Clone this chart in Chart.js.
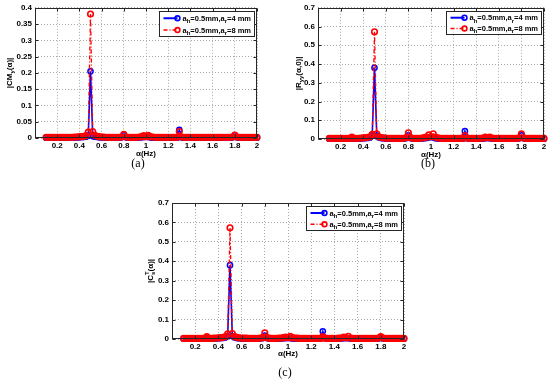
<!DOCTYPE html>
<html>
<head>
<meta charset="utf-8">
<script src="https://cdn.jsdelivr.net/npm/chart.js@4.4.1/dist/chart.umd.min.js"></script>
<style>
  body { margin: 0; background: #fff; }
  #wrap { position: relative; width: 550px; height: 380px; overflow: hidden; }
  canvas { position: absolute; }
  .cap { position: absolute; font: 12px "Liberation Serif", "DejaVu Serif", serif; color: #000; transform: translate(-50%, -50%); }
</style>
</head>
<body>
<div id="wrap">
  <canvas id="ca" width="270" height="160" style="left:0;top:0"></canvas>
  <canvas id="cb" width="275" height="160" style="left:275px;top:0"></canvas>
  <canvas id="cc" width="280" height="190" style="left:130px;top:190px"></canvas>
  <div class="cap" style="left:138px;top:163px">(a)</div>
  <div class="cap" style="left:428px;top:163px">(b)</div>
  <div class="cap" style="left:285px;top:372px">(c)</div>
</div>
<script>
'use strict';

// cyclic frequency alpha (Hz)
let alpha = [0.10, 0.12, 0.14, 0.16, 0.18, 0.20, 0.22, 0.24, 0.26, 0.28,
  0.30, 0.32, 0.34, 0.36, 0.38, 0.40, 0.42, 0.44, 0.46, 0.48,
  0.50, 0.52, 0.54, 0.56, 0.58, 0.60, 0.62, 0.64, 0.66, 0.68,
  0.70, 0.72, 0.74, 0.76, 0.78, 0.80, 0.82, 0.84, 0.86, 0.88,
  0.90, 0.92, 0.94, 0.96, 0.98, 1.00, 1.02, 1.04, 1.06, 1.08,
  1.10, 1.12, 1.14, 1.16, 1.18, 1.20, 1.22, 1.24, 1.26, 1.28,
  1.30, 1.32, 1.34, 1.36, 1.38, 1.40, 1.42, 1.44, 1.46, 1.48,
  1.50, 1.52, 1.54, 1.56, 1.58, 1.60, 1.62, 1.64, 1.66, 1.68,
  1.70, 1.72, 1.74, 1.76, 1.78, 1.80, 1.82, 1.84, 1.86, 1.88,
  1.90, 1.92, 1.94, 1.96, 1.98, 2.00];

// (a) |CMy(alpha)|
let cmBlue = [0.001, 0.001, 0.001, 0.001, 0.001, 0.001, 0.001, 0.001, 0.001, 0.001,
  0.001, 0.001, 0.001, 0.002, 0.002, 0.002, 0.003, 0.003, 0.004, 0.007,
  0.205, 0.006, 0.004, 0.003, 0.002, 0.002, 0.002, 0.001, 0.001, 0.001,
  0.001, 0.001, 0.001, 0.001, 0.002, 0.008, 0.002, 0.001, 0.001, 0.001,
  0.001, 0.001, 0.002, 0.002, 0.003, 0.005, 0.003, 0.002, 0.001, 0.001,
  0.001, 0.001, 0.001, 0.001, 0.001, 0.001, 0.001, 0.001, 0.001, 0.001,
  0.025, 0.002, 0.001, 0.001, 0.001, 0.001, 0.001, 0.001, 0.001, 0.001,
  0.001, 0.001, 0.001, 0.001, 0.001, 0.001, 0.001, 0.001, 0.001, 0.001,
  0.001, 0.001, 0.001, 0.001, 0.002, 0.008, 0.002, 0.001, 0.001, 0.001,
  0.001, 0.001, 0.001, 0.001, 0.001, 0.001];
let cmRed = [0.002, 0.002, 0.002, 0.002, 0.002, 0.002, 0.002, 0.002, 0.002, 0.002,
  0.002, 0.002, 0.002, 0.003, 0.003, 0.004, 0.004, 0.005, 0.007, 0.018,
  0.381, 0.020, 0.008, 0.005, 0.004, 0.003, 0.003, 0.002, 0.002, 0.002,
  0.002, 0.002, 0.002, 0.002, 0.003, 0.011, 0.003, 0.002, 0.002, 0.002,
  0.002, 0.002, 0.003, 0.004, 0.007, 0.004, 0.008, 0.004, 0.003, 0.002,
  0.002, 0.002, 0.002, 0.002, 0.002, 0.002, 0.002, 0.002, 0.002, 0.002,
  0.020, 0.003, 0.002, 0.002, 0.002, 0.002, 0.002, 0.002, 0.002, 0.002,
  0.002, 0.002, 0.002, 0.002, 0.002, 0.002, 0.002, 0.002, 0.002, 0.002,
  0.002, 0.002, 0.002, 0.002, 0.003, 0.009, 0.003, 0.002, 0.002, 0.002,
  0.002, 0.002, 0.002, 0.002, 0.002, 0.002];

// (b) |Ryy(alpha,0)|
let ryBlue = [0.002, 0.002, 0.002, 0.002, 0.002, 0.002, 0.002, 0.002, 0.002, 0.002,
  0.005, 0.002, 0.002, 0.003, 0.003, 0.004, 0.005, 0.006, 0.008, 0.020,
  0.380, 0.018, 0.008, 0.005, 0.004, 0.003, 0.003, 0.002, 0.002, 0.002,
  0.002, 0.002, 0.002, 0.003, 0.005, 0.020, 0.005, 0.003, 0.002, 0.002,
  0.003, 0.003, 0.004, 0.006, 0.008, 0.012, 0.008, 0.004, 0.003, 0.002,
  0.002, 0.002, 0.002, 0.002, 0.002, 0.002, 0.002, 0.002, 0.002, 0.002,
  0.042, 0.004, 0.002, 0.002, 0.002, 0.002, 0.002, 0.002, 0.003, 0.004,
  0.008, 0.004, 0.003, 0.002, 0.002, 0.002, 0.002, 0.002, 0.002, 0.002,
  0.002, 0.002, 0.002, 0.002, 0.004, 0.020, 0.004, 0.002, 0.002, 0.002,
  0.002, 0.002, 0.002, 0.002, 0.002, 0.002];
let ryRed = [0.003, 0.003, 0.003, 0.003, 0.003, 0.003, 0.003, 0.003, 0.003, 0.003,
  0.010, 0.003, 0.003, 0.004, 0.005, 0.006, 0.007, 0.009, 0.012, 0.025,
  0.572, 0.028, 0.012, 0.008, 0.006, 0.005, 0.004, 0.004, 0.003, 0.003,
  0.003, 0.003, 0.003, 0.004, 0.007, 0.033, 0.007, 0.004, 0.003, 0.003,
  0.004, 0.005, 0.007, 0.010, 0.022, 0.012, 0.028, 0.010, 0.006, 0.004,
  0.003, 0.003, 0.003, 0.003, 0.003, 0.003, 0.003, 0.003, 0.003, 0.003,
  0.018, 0.005, 0.003, 0.003, 0.003, 0.003, 0.003, 0.004, 0.005, 0.010,
  0.006, 0.010, 0.005, 0.003, 0.003, 0.003, 0.003, 0.003, 0.003, 0.003,
  0.003, 0.003, 0.003, 0.003, 0.006, 0.028, 0.006, 0.003, 0.003, 0.003,
  0.003, 0.003, 0.003, 0.003, 0.003, 0.003];

// (c) |Cs(alpha)|
let csBlue = [0.002, 0.002, 0.002, 0.002, 0.002, 0.002, 0.002, 0.002, 0.002, 0.002,
  0.005, 0.002, 0.002, 0.003, 0.003, 0.004, 0.005, 0.006, 0.008, 0.015,
  0.380, 0.015, 0.008, 0.005, 0.004, 0.003, 0.003, 0.002, 0.002, 0.002,
  0.002, 0.002, 0.002, 0.003, 0.005, 0.018, 0.005, 0.003, 0.002, 0.002,
  0.002, 0.002, 0.003, 0.004, 0.005, 0.008, 0.005, 0.003, 0.002, 0.002,
  0.002, 0.002, 0.002, 0.002, 0.002, 0.002, 0.002, 0.002, 0.002, 0.002,
  0.040, 0.004, 0.002, 0.002, 0.002, 0.002, 0.002, 0.002, 0.003, 0.004,
  0.006, 0.004, 0.003, 0.002, 0.002, 0.002, 0.002, 0.002, 0.002, 0.002,
  0.002, 0.002, 0.002, 0.002, 0.003, 0.008, 0.003, 0.002, 0.002, 0.002,
  0.002, 0.002, 0.002, 0.002, 0.002, 0.002];
let csRed = [0.003, 0.003, 0.003, 0.003, 0.003, 0.003, 0.003, 0.003, 0.003, 0.003,
  0.012, 0.003, 0.003, 0.004, 0.005, 0.006, 0.007, 0.009, 0.012, 0.026,
  0.572, 0.028, 0.012, 0.008, 0.006, 0.005, 0.004, 0.004, 0.003, 0.003,
  0.003, 0.003, 0.003, 0.004, 0.007, 0.032, 0.007, 0.004, 0.003, 0.003,
  0.003, 0.004, 0.005, 0.007, 0.010, 0.006, 0.014, 0.007, 0.005, 0.004,
  0.003, 0.003, 0.003, 0.003, 0.003, 0.003, 0.003, 0.003, 0.003, 0.003,
  0.012, 0.004, 0.003, 0.003, 0.003, 0.003, 0.003, 0.004, 0.005, 0.010,
  0.006, 0.014, 0.005, 0.003, 0.003, 0.003, 0.003, 0.003, 0.003, 0.003,
  0.003, 0.003, 0.003, 0.003, 0.005, 0.012, 0.005, 0.003, 0.003, 0.003,
  0.003, 0.003, 0.003, 0.003, 0.003, 0.003];

let xTicks = [0.2, 0.4, 0.6, 0.8, 1, 1.2, 1.4, 1.6, 1.8, 2];
let cmTicks = [0, 0.05, 0.1, 0.15, 0.2, 0.25, 0.3, 0.35, 0.4];
let ryTicks = [0, 0.1, 0.2, 0.3, 0.4, 0.5, 0.6, 0.7];

// rich text pieces: 'n' normal, 'sub', 'sup', 'subsup' ([sup, sub])
let blueLabel = [['a', 'n'], ['h', 'sub'], ['=0.5mm,a', 'n'], ['r', 'sub'], ['=4 mm', 'n']];
let redLabel = [['a', 'n'], ['h', 'sub'], ['=0.5mm,a', 'n'], ['r', 'sub'], ['=8 mm', 'n']];
let xLabel = [['α(Hz)', 'n']];

const FONT = '"Liberation Sans", Arial, Helvetica, sans-serif';
const DASHDOT = [4, 2, 1, 2];

function drawRich(ctx, parts, x, y, size, align) {
  let small = Math.round(size * 0.75);
  let big = 'bold ' + size + 'px ' + FONT;
  let lit = 'bold ' + small + 'px ' + FONT;
  let widths = parts.map(function (p) {
    if (p[1] === 'n') { ctx.font = big; return ctx.measureText(p[0]).width; }
    ctx.font = lit;
    if (p[1] === 'subsup') return Math.max(ctx.measureText(p[0][0]).width, ctx.measureText(p[0][1]).width);
    return ctx.measureText(p[0]).width;
  });
  let total = widths.reduce(function (s, w) { return s + w; }, 0);
  let cx = align === 'center' ? x - total / 2 : x;
  ctx.textAlign = 'left';
  ctx.textBaseline = 'alphabetic';
  parts.forEach(function (p, i) {
    if (p[1] === 'n') {
      ctx.font = big; ctx.fillText(p[0], cx, y);
    } else if (p[1] === 'sub') {
      ctx.font = lit; ctx.fillText(p[0], cx, y + size * 0.3);
    } else if (p[1] === 'sup') {
      ctx.font = lit; ctx.fillText(p[0], cx, y - size * 0.45);
    } else {
      ctx.font = lit;
      ctx.fillText(p[0][0], cx, y - size * 0.45);
      ctx.fillText(p[0][1], cx, y + size * 0.3);
    }
    cx += widths[i];
  });
  return total;
}

function measureRich(ctx, parts, size) {
  ctx.save();
  ctx.globalAlpha = 0;
  let w = drawRich(ctx, parts, 0, 0, size, 'left');
  ctx.restore();
  return w;
}

function decoPlugin(cfg) {
  return {
    id: 'deco',
    afterDraw(chart) {
      let ctx = chart.ctx;
      let a = chart.chartArea;
      let xs = chart.scales.x;
      let ys = chart.scales.y;
      let l = Math.round(a.left) + 0.5, r = Math.round(a.right) - 0.5;
      let t = Math.round(a.top) + 0.5, b = Math.round(a.bottom) - 0.5;
      ctx.save();
      ctx.strokeStyle = '#262626';
      ctx.lineWidth = 1;
      ctx.strokeRect(l, t, r - l, b - t);
      // inward ticks like matlab
      ctx.beginPath();
      xTicks.forEach(function (v) {
        let px = Math.round(xs.getPixelForValue(v)) + 0.5;
        ctx.moveTo(px, b); ctx.lineTo(px, b - 3);
        ctx.moveTo(px, t); ctx.lineTo(px, t + 3);
      });
      cfg.yTicks.forEach(function (v) {
        let py = Math.round(ys.getPixelForValue(v)) + 0.5;
        ctx.moveTo(l, py); ctx.lineTo(l + 3, py);
        ctx.moveTo(r, py); ctx.lineTo(r - 3, py);
      });
      ctx.stroke();

      ctx.fillStyle = '#000';
      drawRich(ctx, xLabel, (a.left + a.right) / 2, a.bottom + cfg.xTitleDy, 8, 'center');
      ctx.save();
      ctx.translate(cfg.yTitleX, (a.top + a.bottom) / 2);
      ctx.rotate(-Math.PI / 2);
      drawRich(ctx, cfg.yLabel, 0, 3, 8, 'center');
      ctx.restore();

      // legend box
      let fs = 7.5;
      let tw = Math.max(measureRich(ctx, blueLabel, fs), measureRich(ctx, redLabel, fs));
      let bw = Math.round(tw + 26);
      let bh = cfg.legendH;
      let bx = Math.round(a.right) - 3 - bw + 0.5;
      let by = Math.round(a.top) + 3 + 0.5;
      ctx.fillStyle = '#fff';
      ctx.fillRect(bx, by, bw, bh);
      ctx.strokeStyle = '#262626';
      ctx.strokeRect(bx, by, bw, bh);
      let rows = [
        { y: by + bh * 0.27, color: '#0000ff', dash: [], lw: 2, label: blueLabel },
        { y: by + bh * 0.74, color: '#ff0000', dash: DASHDOT, lw: 1.5, label: redLabel }
      ];
      rows.forEach(function (row) {
        ctx.strokeStyle = row.color;
        ctx.lineWidth = row.lw;
        ctx.setLineDash(row.dash);
        ctx.beginPath();
        ctx.moveTo(bx + 4, row.y);
        ctx.lineTo(bx + 18, row.y);
        ctx.stroke();
        ctx.setLineDash([]);
        ctx.lineWidth = 1.6;
        ctx.beginPath();
        ctx.arc(bx + 18, row.y, 2.4, 0, Math.PI * 2);
        ctx.stroke();
        ctx.fillStyle = '#000';
        drawRich(ctx, row.label, bx + 23, row.y + 2.6, fs, 'left');
      });
      ctx.restore();
    }
  };
}

function makePanel(cfg) {
  let canvasElem = document.getElementById(cfg.id);
  let tickFont = { family: FONT, size: 8, weight: 'bold' };
  let chartObj = {
    type: 'line',
    data: {
      datasets: [{
        label: 'a_h=0.5mm,a_r=4 mm',
        data: alpha.map(function (x, i) { return { x: x, y: cfg.blue[i] }; }),
        borderColor: '#0000ff',
        borderWidth: 1.6,
        pointRadius: 2.6,
        pointBorderWidth: 1.5,
        pointBackgroundColor: 'rgba(0,0,0,0)',
        pointBorderColor: '#0000ff',
        tension: 0,
        clip: false,
        order: 2
      },
      {
        label: 'a_h=0.5mm,a_r=8 mm',
        data: alpha.map(function (x, i) { return { x: x, y: cfg.red[i] }; }),
        borderColor: '#ff0000',
        borderWidth: 1.3,
        borderDash: DASHDOT,
        pointRadius: 2.8,
        pointBorderWidth: 1.6,
        pointBackgroundColor: 'rgba(0,0,0,0)',
        pointBorderColor: '#ff0000',
        tension: 0,
        clip: false,
        order: 1
      }]
    },
    options: {
      responsive: false,
      animation: false,
      devicePixelRatio: 1,
      layout: { padding: { left: 0, right: cfg.padR, top: cfg.padT, bottom: 0 } },
      plugins: { legend: { display: false }, tooltip: { enabled: false } },
      scales: {
        x: {
          type: 'linear',
          min: 0,
          max: 2,
          afterFit: function (s) { s.height = cfg.xH; },
          afterBuildTicks: function (s) { s.ticks = xTicks.map(function (v) { return { value: v }; }); },
          ticks: { font: tickFont, color: '#000', padding: 3, maxRotation: 0, autoSkip: false,
            callback: function (v) { return String(v); } },
          grid: { color: '#a8a8a8', lineWidth: 1, drawTicks: false },
          border: { display: false, dash: [1, 2] }
        },
        y: {
          min: 0,
          max: cfg.yMax,
          afterFit: function (s) { s.width = cfg.yW; },
          afterBuildTicks: function (s) { s.ticks = cfg.yTicks.map(function (v) { return { value: v }; }); },
          ticks: { font: tickFont, color: '#000', padding: 3, autoSkip: false,
            callback: function (v) { return String(v); } },
          grid: { color: '#a8a8a8', lineWidth: 1, drawTicks: false },
          border: { display: false, dash: [1, 2] }
        }
      }
    },
    plugins: [decoPlugin(cfg)]
  };
  new Chart(canvasElem, chartObj);
}

makePanel({ id: 'ca', blue: cmBlue, red: cmRed, yTicks: cmTicks, yMax: 0.4,
  yLabel: [['|CM', 'n'], ['y', 'sub'], ['(α)|', 'n']],
  yW: 35, padR: 13, padT: 6, xH: 22, yTitleX: 9, xTitleDy: 18, legendH: 25 });
makePanel({ id: 'cb', blue: ryBlue, red: ryRed, yTicks: ryTicks, yMax: 0.7,
  yLabel: [['|R', 'n'], ['yy', 'sub'], ['(α,0)|', 'n']],
  yW: 43, padR: 6, padT: 7, xH: 21, yTitleX: 23, xTitleDy: 18, legendH: 23 });
makePanel({ id: 'cc', blue: csBlue, red: csRed, yTicks: ryTicks, yMax: 0.7,
  yLabel: [['|C', 'n'], [['T', 's'], 'subsup'], ['(α)|', 'n']],
  yW: 42, padR: 6, padT: 13, xH: 41, yTitleX: 20, xTitleDy: 17, legendH: 24 });
</script>
</body>
</html>
